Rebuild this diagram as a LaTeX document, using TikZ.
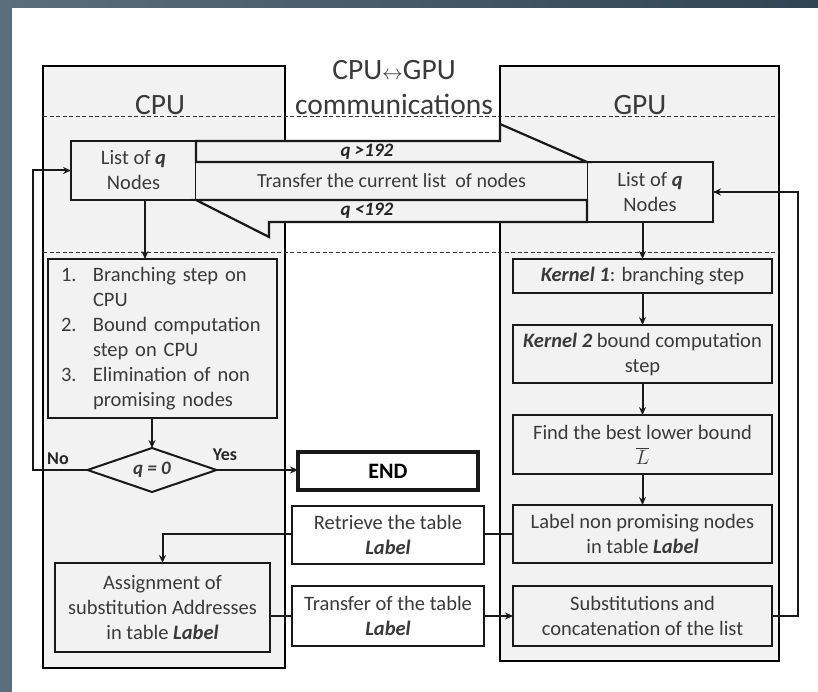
\documentclass[tikz,border=0pt]{standalone}
\usepackage{fontspec}
\setmainfont{Carlito}
\usepackage{tikz}
\usetikzlibrary{arrows.meta,positioning,shapes.geometric}
\definecolor{panelgray}{HTML}{F2F2F2}
\definecolor{inkgray}{HTML}{3A3A3A}
\definecolor{slateleft}{HTML}{5B6E7B}
\definecolor{slateright}{HTML}{2F4454}

\begin{document}
\begin{tikzpicture}[x=1pt, y=-1pt,
    panel/.style={rectangle, draw=black, line width=2.8pt, fill=panelgray, outer sep=0pt},
    header/.style={font=\fontsize{29.5}{35}\selectfont, text=inkgray, align=center},
    box/.style={rectangle, draw=black!90, line width=2.2pt, fill=panelgray, outer sep=0pt, inner sep=2pt, align=center, text=inkgray, font=\fontsize{20.5}{25}\selectfont},
    whitebox/.style={box, fill=white},
    decision/.style={diamond, draw=black!90, line width=2pt, fill=panelgray, aspect=2.9, minimum width=129pt, minimum height=44pt, inner sep=0pt, outer sep=0pt, text=inkgray, font=\fontsize{19}{23}\selectfont\bfseries\itshape},
    bigarrow/.style={draw=black!90, line width=2.2pt, fill=panelgray, line join=miter},
    divider/.style={dashed, dash pattern=on 4pt off 2.5pt, line width=1pt, black!80},
    tag/.style={font=\fontsize{18}{22}\selectfont\bfseries, text=black!85},
    qtag/.style={font=\fontsize{19}{22}\selectfont\bfseries\itshape, text=black!85},
    link/.style={line width=2pt, black!90},
    arr/.style={link, -{Stealth[length=8pt, width=7pt]}}
]
\useasboundingbox (0,0) rectangle (818,692);
\shade[left color=slateleft, right color=slateright] (0,0) rectangle (818,692);
\fill[white] (12,8) rectangle (818,692);

\node[panel, minimum width=242pt, minimum height=602pt] (cpu) at (164,367) {};
\node[panel, minimum width=279pt, minimum height=595pt] (gpu) at (639.5,363.5) {};
\node[header] (cputitle) at (160,105) {CPU};
\node[header] (gputitle) at (640,105) {GPU};
\node[header] (commtitle) at (394,88) {CPU{\fontsize{20}{20}\selectfont$\leftrightarrow$}GPU\\communications};

\draw[divider] (cpu.west |- 0,117) -- (gpu.east |- 0,117);
\draw[divider] (cpu.west |- 0,253) -- (gpu.east |- 0,253);

\node[box, minimum width=125pt, minimum height=59pt] (cpulist) at (133.5,170.5) {List of \textbf{\textit{q}}\\Nodes};
\node[box, minimum width=126pt, minimum height=60pt] (gpulist) at (650,192) {List of \textbf{\textit{q}}\\Nodes};
\node[box, draw=none, minimum width=391pt, minimum height=38pt, font=\fontsize{20}{23}\selectfont] (band) at (391.5,181) {Transfer the current list~ of nodes};

\draw[bigarrow] (cpulist.north east) -- (cpulist.north east -| gpu.west) -- ++(0,-17) -- (gpulist.north west) -- (cpulist.east |- gpulist.north west) -- cycle;
\draw[bigarrow] (gpulist.south west) -- (269,222) -- (269,237) -- (cpulist.south east) -- (cpulist.south east -| gpulist.west) -- cycle;
\node[qtag] (qmore) at (367,152) {q >192};
\node[qtag] (qless) at (367,211) {q <192};

\node[box, minimum width=229pt, minimum height=159pt, text width=203pt, align=left] (steps) at (162.5,338.5) {\begin{tabular}{@{}p{32pt}@{}l@{}}
1. & Branching step on\\
   & CPU\\
2. & Bound computation\\
   & step on CPU\\
3. & Elimination of non\\
   & promising nodes
\end{tabular}};
\node[decision] (test) at (152,470) {q = 0};
\node[tag] (nolabel) at (58,459) {No};
\node[tag] (yeslabel) at (225,455) {Yes};
\node[whitebox, line width=3.6pt, minimum width=180pt, minimum height=38pt, text=black, font=\fontsize{22}{26}\selectfont\bfseries] (finish) at (388,471) {END};

\node[whitebox, minimum width=192pt, minimum height=58pt] (retrieve) at (388,535) {Retrieve the table\\\textbf{\textit{Label}}};
\node[whitebox, minimum width=192pt, minimum height=60pt] (sendtable) at (388,616) {Transfer of the table\\\textbf{\textit{Label}}};
\node[box, minimum width=215pt, minimum height=89pt] (assign) at (162.5,607.5) {Assignment of\\substitution Addresses\\in table \textbf{\textit{Label}}};

\node[box, minimum width=259pt, minimum height=34pt] (kernelA) at (642.5,276) {\textbf{\textit{Kernel 1}}: branching step};
\node[box, minimum width=259pt, minimum height=58pt, below=32pt of kernelA] (kernelB) {\textbf{\textit{Kernel 2}} bound computation\\step};
\node[box, minimum width=259pt, minimum height=59pt, below=32pt of kernelB] (best) {Find the best lower bound\\$\overline{L}$};
\node[box, minimum width=259pt, minimum height=58pt, below=31pt of best] (marking) {Label non promising nodes\\in table \textbf{\textit{Label}}};
\node[box, minimum width=259pt, minimum height=60pt, below=23pt of marking] (subst) {Substitutions and\\concatenation of the list};

\draw[arr] ([xshift=11.5pt]cpulist.south) -- ([xshift=11.5pt]cpulist.south |- steps.north);
\draw[arr] (steps.south -| test.north) -- (test.north);
\draw[arr] (test.west) -- ++(-55,0) |- (cpulist.west);
\draw[arr] (test.east) -- (test.east -| finish.west);

\draw[arr] (gpulist.south -| kernelA.north) -- (kernelA.north);
\draw[arr] (kernelA.south) -- (kernelB.north);
\draw[arr] (kernelB.south) -- (best.north);
\draw[arr] (best.south) -- (marking.north);
\draw[arr] (subst.east) -- ++(26,0) |- (gpulist.east);

\draw[link] (marking.west) -- (marking.west -| retrieve.east);
\draw[arr] (retrieve.west |- marking.west) -| (assign.north);
\draw[link] (assign.east |- sendtable.west) -- (sendtable.west);
\draw[arr] (sendtable.east) -- (sendtable.east -| subst.west);
\end{tikzpicture}
\end{document}
